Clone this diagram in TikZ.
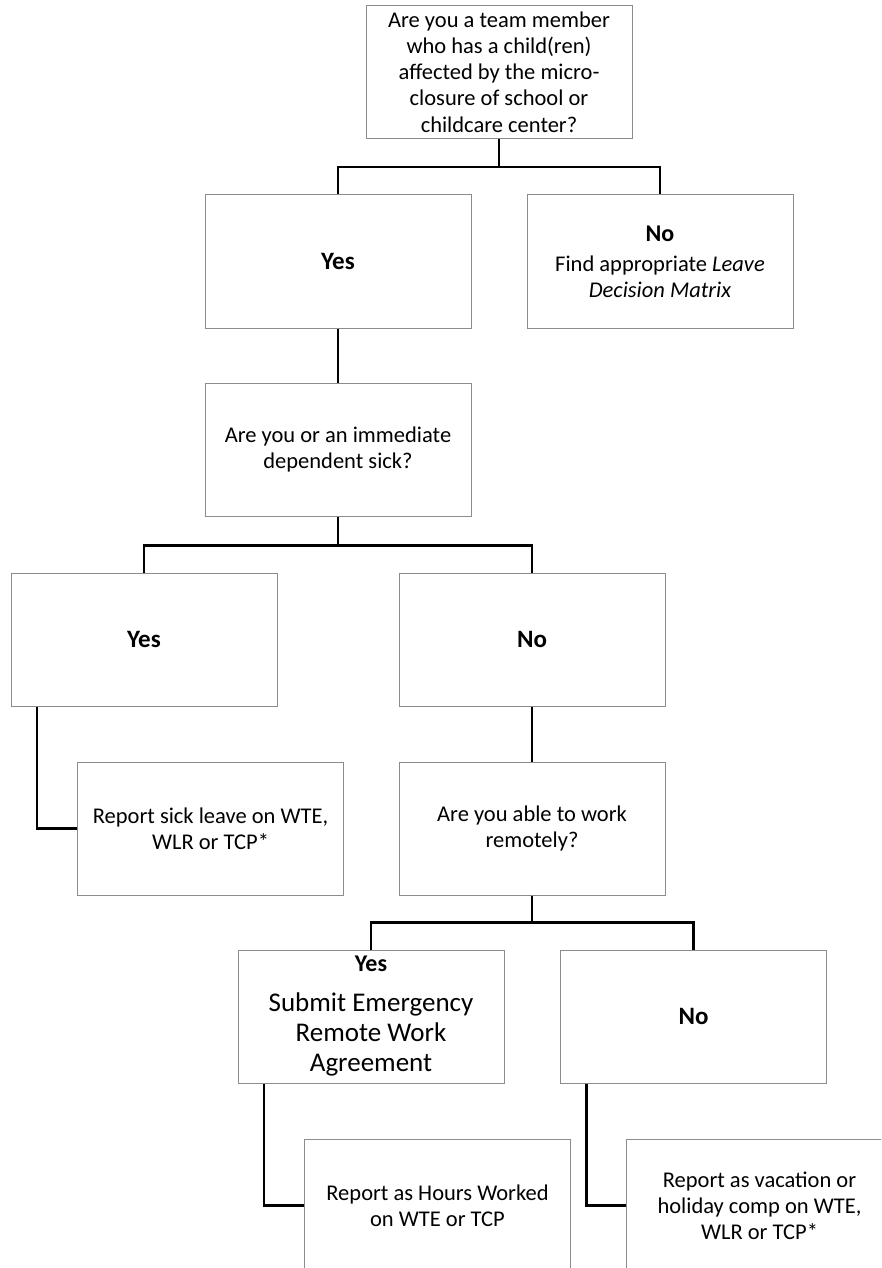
\documentclass[tikz,border=0pt]{standalone}
\usepackage{fontspec}
\setmainfont{Carlito}

\begin{document}
\begin{tikzpicture}[x = 1pt, y = -1pt,
    box/.style = {draw = black!45, line width = 1pt,
      minimum width = 266pt, minimum height = 133pt,
      inner sep = 0pt, align = center,
      font = \fontsize{22.5}{26.2}\selectfont},
    answer/.style = {box, font = \fontsize{25}{28}\selectfont\bfseries},
    link/.style = {line width = 2.2pt}]
    \useasboundingbox (0,0) rectangle (881,1268);
    \clip (0,0) rectangle (881,1268);

    \node [box] (q1) at (499, 72)
      {Are you a team member\\ who has a child(ren)\\ affected by the micro-\\
       closure of school or\\ childcare center?};
    \node [answer] (yes1) at (338, 261.5) {Yes};
    \node [box] (no1) at (660, 261.5)
      {{\fontsize{24}{27}\selectfont\bfseries No}\\[4pt]
       Find appropriate \textit{Leave}\\ \textit{Decision Matrix}};
    \node [box] (q2) at (338, 449.5) {Are you or an immediate\\ dependent sick?};
    \node [answer] (yes2) at (144, 639.5) {Yes};
    \node [answer] (no2) at (532, 639.5) {No};
    \node [box] (sick) at (210.5, 828.5) {Report sick leave on WTE,\\ WLR or TCP*};
    \node [box] (q3) at (532, 828.5) {Are you able to work\\ remotely?};
    \node [box, font = \fontsize{27}{30}\selectfont] (yes3) at (371, 1016.5)
      {{\fontsize{24}{27}\selectfont\bfseries Yes}\\[10pt]
       Submit Emergency\\ Remote Work\\ Agreement};
    \node [answer] (no3) at (693.5, 1016.5) {No};
    \node [box] (hours) at (437.5, 1205.5) {Report as Hours Worked\\ on WTE or TCP};
    \node [box] (vac) at (759.5, 1205.5)
      {Report as vacation or\\ holiday comp on WTE,\\ WLR or TCP*};

    \draw [link] (q1.south) -- ++(0,28) -| (yes1.north);
    \draw [link] (q1.south) -- ++(0,28) -| (no1.north);
    \draw [link] (yes1) -- (q2);
    \draw [link] (q2.south) -- ++(0,29) -| (yes2.north);
    \draw [link] (q2.south) -- ++(0,29) -| (no2.north);
    \draw [link] ([xshift = 26.5pt]yes2.south west) |- (sick.west);
    \draw [link] (no2) -- (q3);
    \draw [link] (q3.south) -- ++(0,27) -| (yes3.north);
    \draw [link] (q3.south) -- ++(0,27) -| (no3.north);
    \draw [link] ([xshift = 26.5pt]yes3.south west) |- (hours.west);
    \draw [link] ([xshift = 26.5pt]no3.south west) |- (vac.west);
\end{tikzpicture}
\end{document}
